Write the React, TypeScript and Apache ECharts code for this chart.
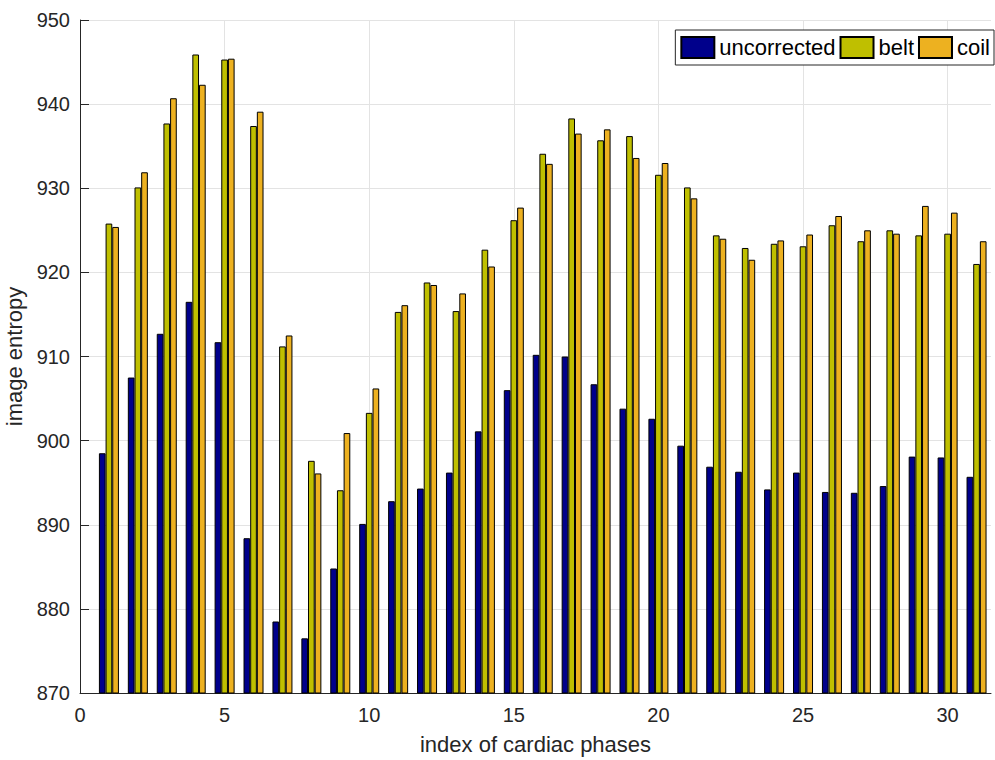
import React, { useEffect, useRef } from "react";
import * as echarts from "echarts";

const phases = [1, 2, 3, 4, 5, 6, 7, 8, 9, 10, 11, 12, 13, 14, 15, 16, 17, 18, 19, 20, 21, 22, 23, 24, 25, 26, 27, 28, 29, 30, 31];
const uncorrected = [898.5, 907.5, 912.7, 916.5, 911.7, 888.4, 878.5, 876.5, 884.8, 890.1, 892.8, 894.3, 896.2, 901.1, 906.0, 910.2, 910.0, 906.7, 903.8, 902.6, 899.4, 896.9, 896.3, 894.2, 896.2, 893.9, 893.8, 894.6, 898.1, 898.0, 895.7];
const belt = [925.8, 930.1, 937.7, 945.9, 945.3, 937.4, 911.2, 897.6, 894.1, 903.3, 915.3, 918.8, 915.4, 922.7, 926.2, 934.1, 938.3, 935.7, 936.2, 931.6, 930.1, 924.4, 922.9, 923.4, 923.1, 925.6, 923.7, 925.0, 924.4, 924.6, 921.0];
const coil = [925.4, 931.9, 940.7, 942.3, 945.4, 939.1, 912.5, 896.1, 900.9, 906.2, 916.1, 918.5, 917.5, 920.7, 927.7, 932.9, 936.5, 937.0, 933.6, 933.0, 928.8, 924.0, 921.5, 923.8, 924.5, 926.7, 925.0, 924.6, 927.9, 927.1, 923.7];

const seriesNames = ["uncorrected", "belt", "coil"];
const seriesColors = ["#00008B", "#BFBF00", "#EDB120"];
const seriesValues = [uncorrected, belt, coil];

const FONT = "'Liberation Sans', Arial, Helvetica, sans-serif";
const GRID = "#e3e3e3";
const AXIS = "#262626";

export default function App() {
  const ref = useRef<HTMLDivElement>(null);
  useEffect(() => {
    if (!ref.current) return;
    const chart = echarts.init(ref.current, null, { renderer: "svg" });
    chart.setOption({
      animation: false,
      backgroundColor: "#ffffff",
      textStyle: { fontFamily: FONT },
      grid: { left: 80, top: 20, right: 4, bottom: 67, containLabel: false, outerBoundsMode: "none" },
      legend: {
        data: seriesNames,
        right: 1,
        top: 30,
        width: 400,
        orient: "horizontal",
        padding: [6, 4, 6, 5],
        itemGap: 4,
        itemWidth: 33,
        itemHeight: 21,
        borderColor: AXIS,
        borderWidth: 1,
        backgroundColor: "#ffffff",
        icon: "rect",
        textStyle: { fontSize: 22, color: "#000", fontFamily: FONT },
      },
      xAxis: {
        type: "value",
        min: 0,
        max: 31.5,
        interval: 5,
        name: "index of cardiac phases",
        nameLocation: "middle",
        nameGap: 40,
        nameTextStyle: { fontSize: 22, color: AXIS, fontFamily: FONT },
        axisLine: { show: true, lineStyle: { color: AXIS, width: 1 } },
        axisTick: { show: true, inside: true, length: 9, lineStyle: { color: AXIS } },
        axisLabel: { fontSize: 20, color: AXIS, margin: 12, showMaxLabel: false, fontFamily: FONT },
        splitLine: {
          show: true,
          lineStyle: { color: [GRID, GRID, GRID, GRID, GRID, GRID, GRID, "rgba(0,0,0,0)"], width: 1 },
        },
      },
      yAxis: {
        type: "value",
        min: 870,
        max: 950,
        interval: 10,
        name: "image entropy",
        nameLocation: "middle",
        nameGap: 44,
        nameRotate: 90,
        nameTextStyle: { fontSize: 22, color: AXIS, fontFamily: FONT },
        axisLine: { show: true, lineStyle: { color: AXIS, width: 1 } },
        axisTick: { show: true, inside: true, length: 9, lineStyle: { color: AXIS } },
        axisLabel: { fontSize: 20, color: AXIS, margin: 10, fontFamily: FONT },
        splitLine: { show: true, lineStyle: { color: GRID, width: 1 } },
      },
      series: seriesNames.map((name, i) => ({
        name,
        type: "bar",
        data: phases.map((p, j) => [p, seriesValues[i][j]]),
        barWidth: 6.67,
        barGap: "0%",
        clip: true,
        itemStyle: { color: seriesColors[i], borderColor: "#000", borderWidth: 1 },
      })),
    });
    return () => chart.dispose();
  }, []);
  return (
    <div
      ref={ref}
      style={{ position: "fixed", left: 0, top: 0, width: 995, height: 760, background: "#fff" }}
    />
  );
}
